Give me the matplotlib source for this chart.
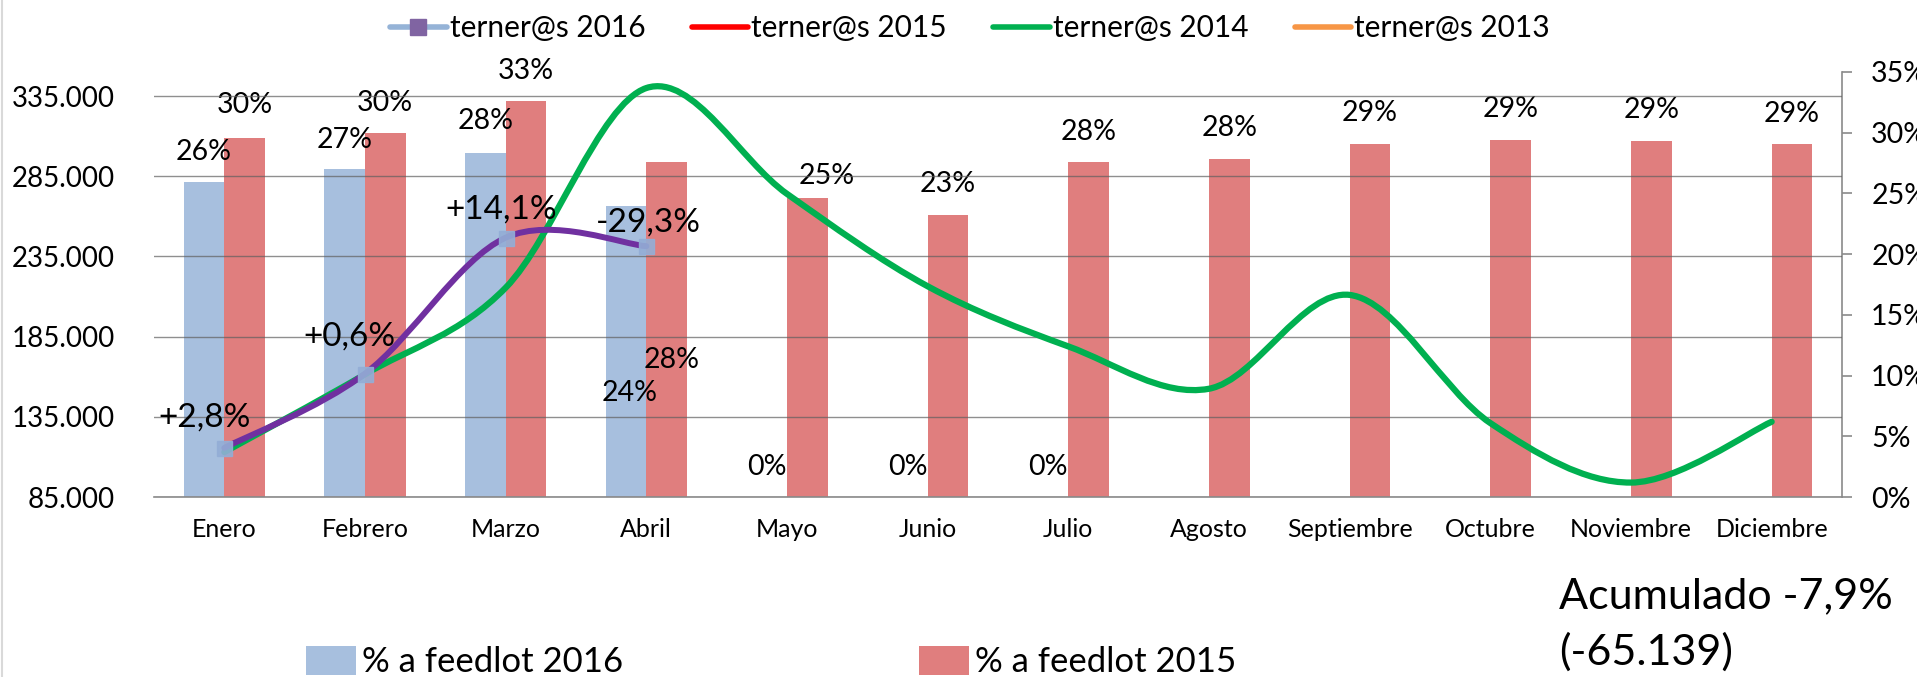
import numpy as np
import matplotlib
matplotlib.use("Agg")
import matplotlib.pyplot as plt
from matplotlib.path import Path
from matplotlib.patches import PathPatch, Patch
from matplotlib.lines import Line2D
from matplotlib.ticker import FuncFormatter, MultipleLocator

plt.rcParams['font.family'] = ['Lato', 'DejaVu Sans']

# datos
meses = ['Enero', 'Febrero', 'Marzo', 'Abril', 'Mayo', 'Junio', 'Julio',
         'Agosto', 'Septiembre', 'Octubre', 'Noviembre', 'Diciembre']
feedlot_2016 = [0.259, 0.270, 0.283, 0.240, 0.0, 0.0, 0.0,
                np.nan, np.nan, np.nan, np.nan, np.nan]
feedlot_2015 = [0.296, 0.300, 0.326, 0.276, 0.246, 0.232, 0.276,
                0.278, 0.291, 0.294, 0.293, 0.291]
terneros_2016 = [115600, 161900, 246700, 241400]
terneros_2014 = [113000, 161500, 215500, 340000, 274000, 216400, 178900,
                 152500, 211000, 131100, 94000, 131900]
cambio_2016 = ['+2,8%', '+0,6%', '+14,1%', '-29,3%']

# desplazamientos de etiquetas (px, respecto del punto o tope de barra)
off_2016 = [(0, 30), (0, 29), (0, 32), (4, -187), (0, 30), (0, 30), (0, 30)]
off_2015 = [(0, 33), (0, 30), (0, 30), (5, -198), (19, 22), (0, 31), (0, 30),
            (0, 31), (0, 31), (0, 31), (0, 31), (0, 30)]
off_cambio = [(-20, 30), (-16, 37), (-4, 28), (2, 24)]

AZUL = '#A7BFDE'
ROJO = '#E07E7E'
VERDE = '#00B050'
VIOLETA = '#7030A0'
GRIS = '#8a8a8a'
PX = 0.72  # px -> pt a 100 dpi


def curva_suave(xs, ys):
    # spline tipo Excel (Catmull-Rom en Bezier cubicos)
    pts = list(zip(xs, ys))
    verts = [pts[0]]
    codes = [Path.MOVETO]
    for i in range(len(pts) - 1):
        p0 = pts[i - 1] if i > 0 else pts[i]
        p1, p2 = pts[i], pts[i + 1]
        p3 = pts[i + 2] if i + 2 < len(pts) else pts[i + 1]
        c1 = (p1[0] + (p2[0] - p0[0]) / 6, p1[1] + (p2[1] - p0[1]) / 6)
        c2 = (p2[0] - (p3[0] - p1[0]) / 6, p2[1] - (p3[1] - p1[1]) / 6)
        verts += [c1, c2, p2]
        codes += [Path.CURVE4] * 3
    return Path(verts, codes)


fig = plt.figure(figsize=(19.17, 6.77), dpi=100)
ax = fig.add_axes([154 / 1917, 1 - 497 / 677, (1842 - 154) / 1917, (497 - 72) / 677])
ax2 = ax.twinx()
ax.set_zorder(ax2.get_zorder() + 1)
ax.patch.set_visible(False)

x = np.arange(len(meses))
w = 0.288

# barras (% a feedlot) en eje derecho
ax2.bar(x - w / 2, feedlot_2016, w, color=AZUL, zorder=1)
ax2.bar(x + w / 2, feedlot_2015, w, color=ROJO, zorder=1)
ax2.set_ylim(0, 0.35)
ax2.yaxis.set_major_locator(MultipleLocator(0.05))
ax2.yaxis.set_major_formatter(FuncFormatter(lambda v, p: f"{v * 100:.0f}%"))
ax2.tick_params(axis='y', direction='out', length=7, width=1.2, color=GRIS,
                labelsize=20.5, pad=14)
for s in ['top', 'left', 'bottom']:
    ax2.spines[s].set_visible(False)
ax2.spines['right'].set_color(GRIS)
ax2.spines['right'].set_linewidth(1.2)

for i, v in enumerate(feedlot_2016):
    if np.isnan(v):
        continue
    dx, dy = off_2016[i]
    ax2.annotate(f"{v * 100:.0f}%", (x[i] - w / 2, v), xytext=(dx * PX, dy * PX),
                 textcoords='offset points', ha='center', va='center', fontsize=20.5)
for i, v in enumerate(feedlot_2015):
    dx, dy = off_2015[i]
    ax2.annotate(f"{v * 100:.0f}%", (x[i] + w / 2, v), xytext=(dx * PX, dy * PX),
                 textcoords='offset points', ha='center', va='center', fontsize=20.5)

# lineas (terner@s) en eje izquierdo
ax.set_xlim(-0.5, len(meses) - 0.5)
ax.set_ylim(85000, 350000)
ax.yaxis.set_major_formatter(FuncFormatter(lambda v, p: f"{v:,.0f}".replace(',', '.')))
ax.set_yticks(np.arange(85000, 335001, 50000))
ax.set_xticks(x)
ax.set_xticklabels(meses)
ax.tick_params(axis='y', length=0, labelsize=20, pad=28)
ax.tick_params(axis='x', length=0, labelsize=18, pad=15)
ax.grid(axis='y', color='#606060', alpha=0.7, lw=1.0)
ax.set_axisbelow(True)
for s in ['top', 'left', 'right']:
    ax.spines[s].set_visible(False)
ax.spines['bottom'].set_color(GRIS)
ax.spines['bottom'].set_linewidth(1.2)

ax.add_patch(PathPatch(curva_suave(x, terneros_2014), fill=False, ec=VERDE,
                       lw=4.5, capstyle='round', zorder=3))
x16 = x[:len(terneros_2016)]
ax.add_patch(PathPatch(curva_suave(x16, terneros_2016), fill=False, ec=VIOLETA,
                       lw=4.3, capstyle='round', zorder=4))
ax.plot(x16, terneros_2016, ls='none', marker='s', ms=10.8, mfc='#93AED6',
        mec='#93AED6', alpha=0.9, zorder=5)
for i, t in enumerate(cambio_2016):
    dx, dy = off_cambio[i]
    ax.annotate(t, (x16[i], terneros_2016[i]), xytext=(dx * PX, dy * PX),
                textcoords='offset points', ha='center', va='center', fontsize=24,
                zorder=6)

# leyenda superior
h_top = [
    Line2D([], [], color='#95B3D7', lw=4, marker='s', ms=11, mfc='#8064A2',
           mec='#8064A2', solid_capstyle='round'),
    Line2D([], [], color='#FF0000', lw=4, solid_capstyle='round'),
    Line2D([], [], color=VERDE, lw=4, solid_capstyle='round'),
    Line2D([], [], color='#F79646', lw=4, solid_capstyle='round'),
]
fig.legend(h_top, ['terner@s 2016', 'terner@s 2015', 'terner@s 2014', 'terner@s 2013'],
           loc='center', bbox_to_anchor=(0.506, 0.958), ncol=4, frameon=False,
           fontsize=21.5, handlelength=1.9, handletextpad=0.1, columnspacing=1.55)

# leyenda inferior
for col, lab, x0 in [(AZUL, '% a feedlot 2016', 306), (ROJO, '% a feedlot 2015', 919)]:
    fig.legend([Patch(facecolor=col)], [lab], loc='center left',
               bbox_to_anchor=(x0 / 1917, 0.022), frameon=False, fontsize=25,
               handlelength=1.45, handleheight=0.9, handletextpad=0.15,
               borderpad=0, borderaxespad=0)

fig.text(1559 / 1917, 1 - 608 / 677, 'Acumulado -7,9%', fontsize=31, va='baseline')
fig.text(1559 / 1917, 1 - 665 / 677, '(-65.139)', fontsize=31, va='baseline')

fig.add_artist(Line2D([0.0008, 0.0008], [0, 1], transform=fig.transFigure,
                      color='#d9d9d9', lw=1.5))

fig.savefig('out.png', dpi=100)
